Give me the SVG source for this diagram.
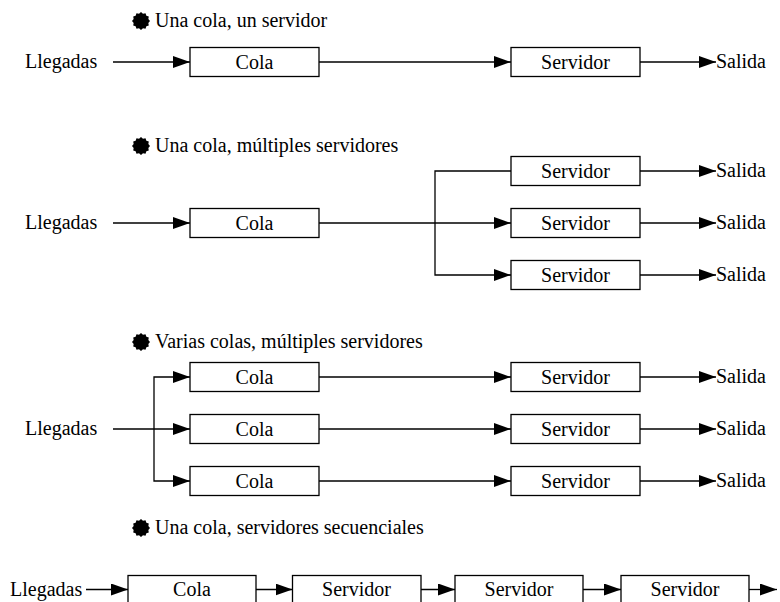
<svg xmlns="http://www.w3.org/2000/svg" width="780" height="602" viewBox="0 0 780 602">
<style>
text{font-family:"Liberation Serif","Times New Roman",serif;font-size:20px;fill:#000}
.c{text-anchor:middle}
.box{fill:#fff;stroke:#000;stroke-width:1.3}
.ln{fill:none;stroke:#000;stroke-width:1.3}
.ar{marker-end:url(#ah)}
</style>
<defs>
<marker id="ah" markerUnits="userSpaceOnUse" viewBox="0 0 17 12" refX="17" refY="6" markerWidth="17" markerHeight="12" orient="auto"><path d="M0,0 L17,6 L0,12 z" fill="#000"/></marker>
<polygon id="bul" fill="#000" points="9,0 7.34,1.97 7.79,4.5 5.37,5.37 4.5,7.79 1.97,7.34 0,9 -1.97,7.34 -4.5,7.79 -5.37,5.37 -7.79,4.5 -7.34,1.97 -9,0 -7.34,-1.97 -7.79,-4.5 -5.37,-5.37 -4.5,-7.79 -1.97,-7.34 0,-9 1.97,-7.34 4.5,-7.79 5.37,-5.37 7.79,-4.5 7.34,-1.97"/>
</defs>

<g id="titles">
<use href="#bul" x="141" y="21"/><text x="155" y="27">Una cola, un servidor</text>
<use href="#bul" x="141" y="146"/><text x="155" y="152">Una cola, múltiples servidores</text>
<use href="#bul" x="141" y="342"/><text x="155" y="348">Varias colas, múltiples servidores</text>
<use href="#bul" x="141" y="528"/><text x="155" y="534">Una cola, servidores secuenciales</text>
</g>

<g id="connectors">
<!-- row 1 -->
<line class="ln ar" x1="113" y1="62" x2="190" y2="62"/>
<line class="ln ar" x1="319" y1="62" x2="511" y2="62"/>
<line class="ln ar" x1="640" y1="62" x2="716" y2="62"/>
<!-- row 2 -->
<line class="ln ar" x1="113" y1="223" x2="190" y2="223"/>
<line class="ln ar" x1="319" y1="223" x2="511" y2="223"/>
<path class="ln ar" d="M511,171 H435 V275 H511"/>
<line class="ln ar" x1="640" y1="171" x2="716" y2="171"/>
<line class="ln ar" x1="640" y1="223" x2="716" y2="223"/>
<line class="ln ar" x1="640" y1="275" x2="716" y2="275"/>
<!-- row 3 -->
<line class="ln ar" x1="113" y1="429" x2="190" y2="429"/>
<path class="ln ar" d="M154,429 V377 H190"/>
<path class="ln ar" d="M154,429 V481 H190"/>
<line class="ln ar" x1="319" y1="377" x2="511" y2="377"/>
<line class="ln ar" x1="319" y1="429" x2="511" y2="429"/>
<line class="ln ar" x1="319" y1="481" x2="511" y2="481"/>
<line class="ln ar" x1="640" y1="377" x2="716" y2="377"/>
<line class="ln ar" x1="640" y1="429" x2="716" y2="429"/>
<line class="ln ar" x1="640" y1="481" x2="716" y2="481"/>
<!-- row 4 -->
<line class="ln ar" x1="86" y1="589.5" x2="128" y2="589.5"/>
<line class="ln ar" x1="256" y1="589.5" x2="292.5" y2="589.5"/>
<line class="ln ar" x1="421" y1="589.5" x2="455" y2="589.5"/>
<line class="ln ar" x1="583" y1="589.5" x2="621" y2="589.5"/>
<line class="ln ar" x1="749" y1="589.5" x2="777" y2="589.5"/>
</g>

<!-- row 1 -->
<g id="r1-llegadas"><text x="25" y="68">Llegadas</text></g>
<g id="r1-cola"><rect class="box" x="190" y="47.5" width="129" height="29"/><text class="c" x="254.5" y="68.5">Cola</text></g>
<g id="r1-servidor"><rect class="box" x="511" y="47.5" width="129" height="29"/><text class="c" x="575.5" y="68.5">Servidor</text></g>
<g id="r1-salida"><text x="716" y="68">Salida</text></g>

<!-- row 2 -->
<g id="r2-llegadas"><text x="25" y="229">Llegadas</text></g>
<g id="r2-cola"><rect class="box" x="190" y="208.5" width="129" height="29"/><text class="c" x="254.5" y="229.5">Cola</text></g>
<g id="r2-servidor1"><rect class="box" x="511" y="156.5" width="129" height="29"/><text class="c" x="575.5" y="177.5">Servidor</text></g>
<g id="r2-servidor2"><rect class="box" x="511" y="208.5" width="129" height="29"/><text class="c" x="575.5" y="229.5">Servidor</text></g>
<g id="r2-servidor3"><rect class="box" x="511" y="260.5" width="129" height="29"/><text class="c" x="575.5" y="281.5">Servidor</text></g>
<g id="r2-salida1"><text x="716" y="177">Salida</text></g>
<g id="r2-salida2"><text x="716" y="229">Salida</text></g>
<g id="r2-salida3"><text x="716" y="281">Salida</text></g>

<!-- row 3 -->
<g id="r3-llegadas"><text x="25" y="435">Llegadas</text></g>
<g id="r3-cola1"><rect class="box" x="190" y="362.5" width="129" height="29"/><text class="c" x="254.5" y="383.5">Cola</text></g>
<g id="r3-cola2"><rect class="box" x="190" y="414.5" width="129" height="29"/><text class="c" x="254.5" y="435.5">Cola</text></g>
<g id="r3-cola3"><rect class="box" x="190" y="466.5" width="129" height="29"/><text class="c" x="254.5" y="487.5">Cola</text></g>
<g id="r3-servidor1"><rect class="box" x="511" y="362.5" width="129" height="29"/><text class="c" x="575.5" y="383.5">Servidor</text></g>
<g id="r3-servidor2"><rect class="box" x="511" y="414.5" width="129" height="29"/><text class="c" x="575.5" y="435.5">Servidor</text></g>
<g id="r3-servidor3"><rect class="box" x="511" y="466.5" width="129" height="29"/><text class="c" x="575.5" y="487.5">Servidor</text></g>
<g id="r3-salida1"><text x="716" y="383">Salida</text></g>
<g id="r3-salida2"><text x="716" y="435">Salida</text></g>
<g id="r3-salida3"><text x="716" y="487">Salida</text></g>

<!-- row 4 -->
<g id="r4-llegadas"><text x="10" y="596">Llegadas</text></g>
<g id="r4-cola"><rect class="box" x="128" y="575.5" width="128" height="30"/><text class="c" x="192" y="596">Cola</text></g>
<g id="r4-servidor1"><rect class="box" x="292.5" y="575.5" width="128.5" height="30"/><text class="c" x="356.5" y="596">Servidor</text></g>
<g id="r4-servidor2"><rect class="box" x="455" y="575.5" width="128" height="30"/><text class="c" x="519" y="596">Servidor</text></g>
<g id="r4-servidor3"><rect class="box" x="621" y="575.5" width="128" height="30"/><text class="c" x="685" y="596">Servidor</text></g>
</svg>
